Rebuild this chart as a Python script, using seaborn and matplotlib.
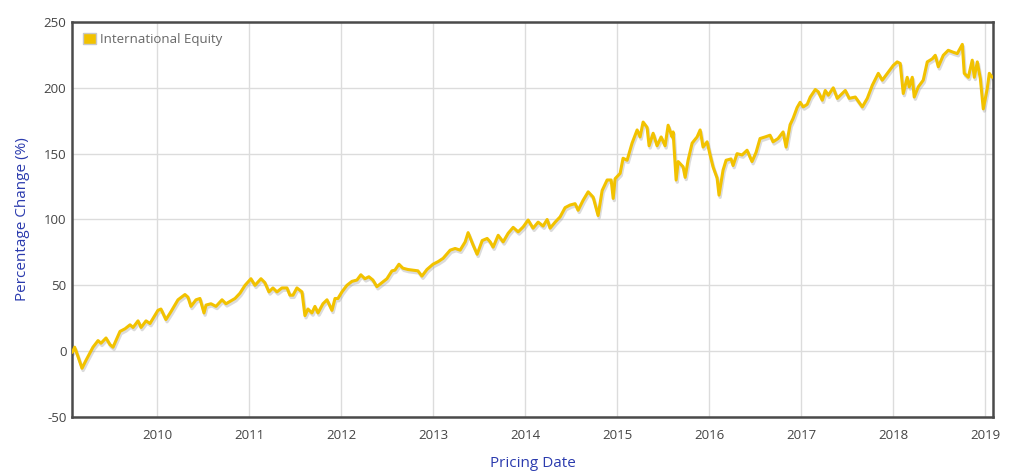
"""International Equity percentage change since early 2009, line chart."""

import matplotlib
matplotlib.use("Agg")
import matplotlib.pyplot as plt
import matplotlib.dates as mdates
import matplotlib.transforms as mtransforms
from matplotlib.patches import Patch
import pandas as pd
import seaborn as sns

SERIES_NAME = "International Equity"

# fractional year of each reading
YEAR_FRAC = [
    2009.070, 2009.081, 2009.099, 2009.135, 2009.179, 2009.222, 2009.298, 2009.353,
    2009.385, 2009.440, 2009.483, 2009.516, 2009.592, 2009.647, 2009.701, 2009.734,
    2009.788, 2009.821, 2009.875, 2009.918, 2010.005, 2010.038, 2010.092, 2010.147,
    2010.223, 2010.299, 2010.332, 2010.364, 2010.419, 2010.462, 2010.506, 2010.528,
    2010.582, 2010.636, 2010.702, 2010.745, 2010.843, 2010.897, 2010.952, 2011.017,
    2011.061, 2011.126, 2011.169, 2011.213, 2011.256, 2011.300, 2011.354, 2011.409,
    2011.441, 2011.474, 2011.517, 2011.572, 2011.604, 2011.637, 2011.680, 2011.713,
    2011.746, 2011.800, 2011.844, 2011.898, 2011.931, 2011.963, 2012.007, 2012.061,
    2012.116, 2012.170, 2012.213, 2012.257, 2012.300, 2012.344, 2012.387, 2012.442,
    2012.496, 2012.551, 2012.583, 2012.627, 2012.670, 2012.725, 2012.779, 2012.833,
    2012.877, 2012.910, 2012.931, 2012.997, 2013.051, 2013.105, 2013.182, 2013.236,
    2013.290, 2013.345, 2013.377, 2013.432, 2013.475, 2013.530, 2013.584, 2013.617,
    2013.649, 2013.704, 2013.758, 2013.812, 2013.867, 2013.921, 2013.976, 2014.030,
    2014.084, 2014.139, 2014.193, 2014.237, 2014.269, 2014.324, 2014.378, 2014.432,
    2014.487, 2014.541, 2014.574, 2014.628, 2014.683, 2014.737, 2014.791, 2014.835,
    2014.889, 2014.933, 2014.955, 2014.976, 2015.031, 2015.063, 2015.107, 2015.161,
    2015.216, 2015.248, 2015.281, 2015.324, 2015.346, 2015.390, 2015.433, 2015.477,
    2015.520, 2015.553, 2015.596, 2015.607, 2015.640, 2015.662, 2015.716, 2015.738,
    2015.770, 2015.814, 2015.868, 2015.901, 2015.933, 2015.977, 2016.010, 2016.042,
    2016.086, 2016.107, 2016.151, 2016.184, 2016.238, 2016.260, 2016.303, 2016.358,
    2016.412, 2016.466, 2016.510, 2016.553, 2016.608, 2016.662, 2016.695, 2016.749,
    2016.804, 2016.836, 2016.880, 2016.912, 2016.956, 2016.989, 2017.021, 2017.064,
    2017.097, 2017.152, 2017.184, 2017.228, 2017.260, 2017.293, 2017.347, 2017.391,
    2017.445, 2017.478, 2017.521, 2017.587, 2017.663, 2017.717, 2017.772, 2017.837,
    2017.880, 2017.946, 2018.000, 2018.043, 2018.076, 2018.109, 2018.152, 2018.174,
    2018.207, 2018.228, 2018.272, 2018.326, 2018.370, 2018.424, 2018.457, 2018.490,
    2018.544, 2018.598, 2018.653, 2018.696, 2018.751, 2018.772, 2018.816, 2018.859,
    2018.881, 2018.914, 2018.947, 2018.979, 2019.023, 2019.045, 2019.077,
]

PCT_CHANGE = [
    -1, 0, 3, -4, -13, -7, 3, 8,
    6, 10, 5, 3, 15, 17, 20, 18,
    23, 18, 23, 21, 31, 32, 24, 30,
    39, 43, 41, 34, 39, 40, 29, 35,
    36, 34, 39, 36, 40, 44, 50, 55,
    50, 55, 52, 45, 48, 45, 48, 48,
    42.5, 42.5, 48, 45, 27, 32, 29, 34,
    29, 36, 39, 31, 40, 40, 45, 50,
    53, 54, 58, 55, 56.5, 54, 49, 52,
    55, 61, 61.5, 66, 63, 62, 61.5, 61,
    57, 60, 62, 66, 68, 70.5, 76.7, 78,
    76.7, 83, 90, 80.5, 73.6, 84, 85.6, 83,
    79, 88, 83, 89.5, 94, 90.6, 94.4, 99.6,
    93.4, 98, 95, 100, 93.4, 98, 102, 109,
    111, 112, 107, 114.6, 121, 117, 103, 122,
    130, 130, 116, 131, 135, 146.5, 145, 158,
    168, 162.7, 174, 170, 156, 165.5, 156, 162.7,
    156, 171.6, 162.7, 166.5, 130, 144, 140, 132,
    145, 158, 162.7, 168, 155, 159, 149, 140,
    131.5, 118.5, 137.5, 145, 146, 141, 150, 149,
    152.6, 144, 151, 161.5, 162.7, 164, 159, 161.5,
    166.5, 155, 172, 176.7, 185, 189, 185.5, 187.5,
    193, 198.7, 197, 190.6, 198, 194.4, 200, 192,
    195.7, 198, 192, 193, 185.5, 192, 202, 211,
    205.8, 212, 217, 219.7, 218.5, 195.7, 208, 200.7,
    208, 193, 200.7, 205.8, 219.7, 222, 224.7, 216,
    224.7, 228.5, 227, 226, 233, 211, 208, 221,
    208, 219.7, 207, 184, 199.5, 211, 208,
]

YEAR_TICKS = list(range(2010, 2020))
Y_TICKS = [-50, 0, 50, 100, 150, 200, 250]

LINE_COLOR = "#F2C200"
LABEL_BLUE = "#2B3BAE"


def frac_to_date(t: float) -> pd.Timestamp:
    year = int(t)
    return pd.Timestamp(year, 1, 1) + pd.Timedelta(days=(t - year) * 365.25)


df = pd.DataFrame({
    "date": [frac_to_date(t) for t in YEAR_FRAC],
    "pct": PCT_CHANGE,
})

sns.set_style("white")
plt.rcParams["font.family"] = ["Open Sans", "DejaVu Sans"]
plt.rcParams["axes.unicode_minus"] = False

fig = plt.figure(figsize=(10.24, 4.76), dpi=100)
ax = fig.add_axes([0.0703, 0.124, 0.8994, 0.8298])

# soft drop shadow under the line
shadow = mtransforms.offset_copy(ax.transData, fig=fig, x=0.8, y=-1.6, units="points")
ax.plot(df["date"], df["pct"], color="#9a9a9a", alpha=0.35, lw=2.4,
        transform=shadow, zorder=2)
sns.lineplot(data=df, x="date", y="pct", ax=ax, color=LINE_COLOR, lw=2.2,
             zorder=3, legend=False)

ax.set_xlim(frac_to_date(2009.070), frac_to_date(2019.085))
ax.set_ylim(-50, 250)
ax.set_yticks(Y_TICKS)
ax.set_xticks([pd.Timestamp(y, 1, 1) for y in YEAR_TICKS])
ax.xaxis.set_major_formatter(mdates.DateFormatter("%Y"))
ax.grid(True, color="#dcdcdc", lw=1.0)
ax.tick_params(axis="both", length=0, labelsize=9.5, colors="#444444", pad=4)
ax.tick_params(axis="x", pad=9)

for side in ["left", "right", "top", "bottom"]:
    ax.spines[side].set_visible(True)
    ax.spines[side].set_color("#4a4a4a")
    ax.spines[side].set_linewidth(1.8)

ax.set_xlabel("Pricing Date", color=LABEL_BLUE, fontsize=11, labelpad=10)
ax.set_ylabel("Percentage Change (%)", color=LABEL_BLUE, fontsize=11, labelpad=10)

handle = Patch(facecolor=LINE_COLOR, edgecolor="#c8c8c8", lw=1.0)
leg = ax.legend([handle], [SERIES_NAME], loc="upper left", frameon=False,
                fontsize=9.5, handlelength=1.0, handleheight=1.0,
                handletextpad=0.3, borderaxespad=0.4)
for txt in leg.get_texts():
    txt.set_color("#666666")

fig.savefig("out.png", dpi=100)
plt.close(fig)
